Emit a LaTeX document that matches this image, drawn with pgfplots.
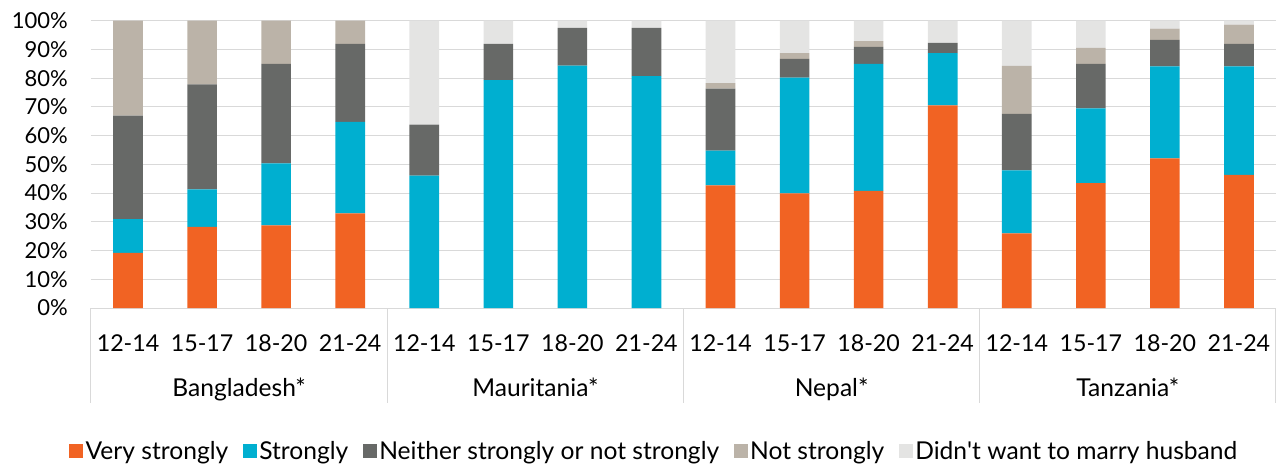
\documentclass[border=0pt]{standalone}
\usepackage{fontspec}
\setmainfont{Lato}
\newfontfamily\plainlato{Lato}
\usepackage{pgfplots}
\pgfplotsset{compat=1.18}
\definecolor{cOrange}{RGB}{241,99,35}
\definecolor{cBlue}{RGB}{0,175,208}
\definecolor{cDark}{RGB}{103,105,103}
\definecolor{cTan}{RGB}{187,179,168}
\definecolor{cLight}{RGB}{228,228,227}
\definecolor{gridgray}{RGB}{217,217,217}
\begin{document}
\begin{tikzpicture}
\begin{axis}[
  name=ax,
  scale only axis,
  width=1185bp, height=287.3bp,
  ybar stacked,
  bar width=0.4,
  xmin=-0.5, xmax=15.5,
  ymin=0, ymax=100,
  xtick={0,...,15},
  xticklabels={12-14,15-17,18-20,21-24,12-14,15-17,18-20,21-24,12-14,15-17,18-20,21-24,12-14,15-17,18-20,21-24},
  ytick={0,10,...,100},
  yticklabels={0\%,10\%,20\%,30\%,40\%,50\%,60\%,70\%,80\%,90\%,100\%},
  major tick length=0,
  axis line style={draw=none},
  ymajorgrids,
  grid style={color=gridgray, line width=1bp},
  yticklabel style={font=\fontsize{22bp}{26bp}\selectfont, anchor=east, inner sep=0pt, xshift=-23bp},
  xticklabel style={font=\fontsize{23.2bp}{27bp}\selectfont, anchor=base, inner sep=0pt, yshift=-43bp},
  clip=false,
  legend columns=5,
  legend style={draw=none, at={(0.5,0)}, anchor=center, xshift=-29bp, yshift=-143bp,
    font=\fontsize{24.6bp}{28bp}\selectfont,
    /tikz/every even column/.append style={column sep=12bp},
    nodes={inner sep=2.5bp}},
  legend image code/.code={\fill[#1,draw=none] (0bp,-7bp) rectangle (14bp,7bp);},
  legend cell align=left,
]
\addplot[fill=cOrange, draw=none] coordinates {(0,19.2) (1,28.2) (2,28.8) (3,32.9) (4,0) (5,0) (6,0) (7,0) (8,42.7) (9,39.9) (10,40.8) (11,70.5) (12,26.0) (13,43.5) (14,52.1) (15,46.3)};
\addplot[fill=cBlue, draw=none] coordinates {(0,11.7) (1,13.1) (2,21.5) (3,31.9) (4,46.1) (5,79.3) (6,84.4) (7,80.7) (8,12.1) (9,40.3) (10,44.2) (11,18.2) (12,21.9) (13,26.0) (14,32.0) (15,37.8)};
\addplot[fill=cDark, draw=none] coordinates {(0,36.1) (1,36.5) (2,34.7) (3,27.1) (4,17.7) (5,12.6) (6,13.1) (7,16.8) (8,21.6) (9,6.5) (10,5.9) (11,3.6) (12,19.7) (13,15.5) (14,9.2) (15,7.8)};
\addplot[fill=cTan, draw=none] coordinates {(0,33.0) (1,22.2) (2,15.0) (3,8.1) (4,0) (5,0) (6,0) (7,0) (8,1.9) (9,2.0) (10,2.0) (11,0) (12,16.7) (13,5.5) (14,3.9) (15,6.7)};
\addplot[fill=cLight, draw=none] coordinates {(0,0) (1,0) (2,0) (3,0) (4,36.2) (5,8.1) (6,2.5) (7,2.5) (8,21.7) (9,11.3) (10,7.1) (11,7.7) (12,15.7) (13,9.5) (14,2.8) (15,1.4)};
\legend{Very strongly,Strongly,Neither strongly or not strongly,Not strongly,Didn{\plainlato '}t want to marry husband}
\pgfplotsinvokeforeach{-0.5,3.5,7.5,11.5,15.5}{
  \draw[gridgray, line width=1bp] (axis cs:#1,0) -- ([yshift=-95bp]axis cs:#1,0);
}
\node[anchor=base, font=\fontsize{24.6bp}{28bp}\selectfont, inner sep=0pt] at ([yshift=-88.7bp]axis cs:1.5,0) {Bangladesh*};
\node[anchor=base, font=\fontsize{24.6bp}{28bp}\selectfont, inner sep=0pt] at ([yshift=-88.7bp]axis cs:5.5,0) {Mauritania*};
\node[anchor=base, font=\fontsize{24.6bp}{28bp}\selectfont, inner sep=0pt] at ([yshift=-88.7bp]axis cs:9.5,0) {Nepal*};
\node[anchor=base, font=\fontsize{24.6bp}{28bp}\selectfont, inner sep=0pt] at ([yshift=-88.7bp]axis cs:13.5,0) {Tanzania*};
\end{axis}
\pgfresetboundingbox
\path (ax.south west) ++(-91bp,-159bp) rectangle ++(1282bp,467bp);
\end{tikzpicture}
\end{document}
